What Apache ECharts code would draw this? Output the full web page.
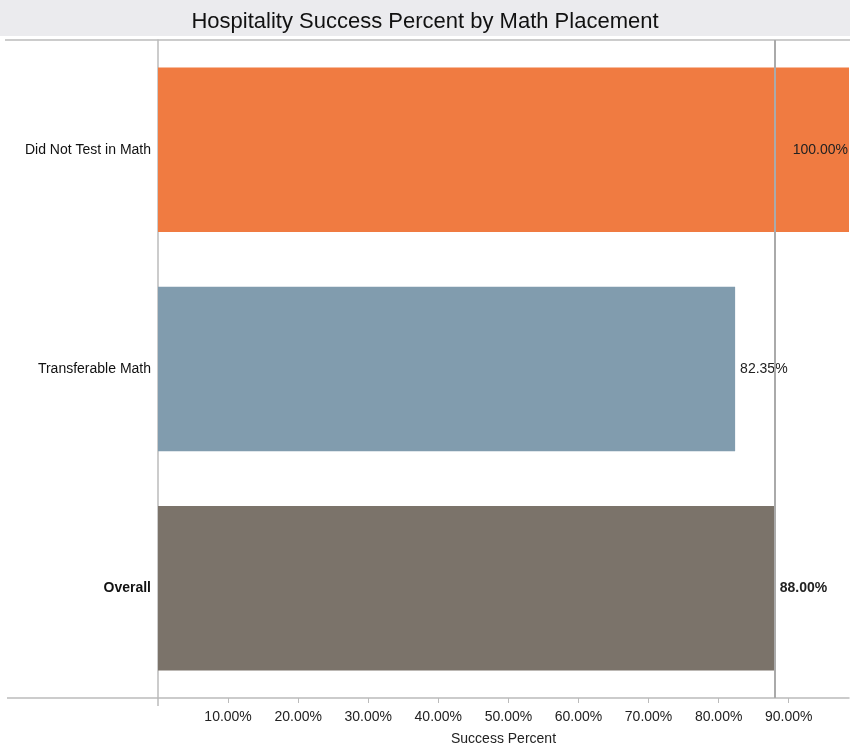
<!DOCTYPE html>
<html>
<head>
<meta charset="utf-8">
<script src="https://cdn.jsdelivr.net/npm/echarts@6/dist/echarts.min.js"></script>
<style>
  html, body { margin: 0; padding: 0; background: #fff; }
  #chart { width: 850px; height: 749px; }
</style>
</head>
<body>
<div id="chart"></div>
<script>
// data
const categories = ['Did Not Test in Math', 'Transferable Math', 'Overall']
const successPct = [100.00, 82.35, 88.00]
const barColors = ['#f07b41', '#819cae', '#7b736a']
const overallLine = 88.00

let myChart = echarts.init(document.getElementById('chart'))
myChart.setOption({
  backgroundColor: '#fff',
  textStyle: { fontFamily: 'Liberation Sans, Arial, sans-serif' },
  title: {
    text: 'Hospitality Success Percent by Math Placement',
    left: 'center',
    top: 6,
    textStyle: { fontSize: 22, fontWeight: 'normal', color: '#111' }
  },
  graphic: [
    { type: 'rect', z: -1, shape: { x: 0, y: 0, width: 850, height: 36 }, style: { fill: '#ebebee' } },
    { type: 'line', shape: { x1: 5, y1: 40, x2: 850, y2: 40 }, style: { stroke: '#bbb', lineWidth: 1.5 } },
    { type: 'line', shape: { x1: 7, y1: 698, x2: 158, y2: 698 }, style: { stroke: '#bbb', lineWidth: 1.5 } },
    { type: 'line', shape: { x1: 158, y1: 698, x2: 158, y2: 706 }, style: { stroke: '#bbb', lineWidth: 1.5 } }
  ],
  grid: { left: 158, right: 1, top: 40, bottom: 51, outerBoundsMode: 'none' },
  xAxis: {
    type: 'value',
    min: 0,
    max: 98.6,
    interval: 10,
    name: 'Success Percent',
    nameLocation: 'middle',
    nameGap: 34,
    nameTextStyle: { fontSize: 14, color: '#222' },
    axisLine: { show: true, lineStyle: { color: '#bbb', width: 1.5 } },
    axisTick: { show: true, length: 5, lineStyle: { color: '#bbb' } },
    splitLine: { show: false },
    axisLabel: {
      fontSize: 14,
      color: '#222',
      margin: 12,
      showMinLabel: false,
      showMaxLabel: false,
      formatter: v => v.toFixed(2) + '%'
    }
  },
  yAxis: {
    type: 'category',
    inverse: true,
    data: categories.map((c, i) => i === 2 ? { value: c, textStyle: { fontWeight: 'bold' } } : c),
    axisLine: { show: true, lineStyle: { color: '#bbb', width: 1.5 } },
    axisTick: { show: false },
    axisLabel: { fontSize: 14, color: '#111', margin: 7 }
  },
  series: [{
    type: 'bar',
    barCategoryGap: '25%',
    data: successPct.map((v, i) => ({
      value: v,
      itemStyle: { color: barColors[i] },
      label: i === 0
        ? { position: 'insideRight', offset: [0, 0], distance: 1 }
        : (i === 2 ? { fontWeight: 'bold' } : {})
    })),
    label: {
      show: true,
      position: 'right',
      distance: 5,
      fontSize: 14,
      color: '#222',
      formatter: p => p.value.toFixed(2) + '%'
    },
    markLine: {
      silent: true,
      symbol: 'none',
      label: { show: false },
      lineStyle: { color: '#aaa', width: 2, type: 'solid' },
      data: [{ xAxis: overallLine }]
    }
  }]
})
</script>
</body>
</html>
